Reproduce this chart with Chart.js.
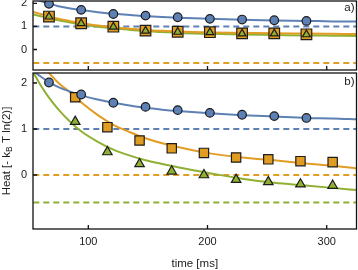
<!DOCTYPE html>
<html>
<head>
<meta charset="utf-8">
<script src="https://cdn.jsdelivr.net/npm/chart.js@4.4.1/dist/chart.umd.min.js"></script>
<style>
  html, body { margin: 0; padding: 0; background: #fff; }
  #wrap { position: relative; width: 358px; height: 270px; }
  #wrap canvas { position: absolute; left: 0; top: 0; }
</style>
</head>
<body>
<div id="wrap">
  <canvas id="panelA" width="358" height="270"></canvas>
  <canvas id="panelB" width="358" height="270"></canvas>
</div>
<script>
// measurement times [ms]
const tCircles = [67, 94, 121, 148, 175, 202, 229, 256, 283];
const tLater   = [89, 116, 143, 170, 197, 224, 251, 278, 305];

// panel a) measured heat
const aCircles   = [1.98, 1.72, 1.54, 1.47, 1.40, 1.33, 1.30, 1.27, 1.24];
const aSquares   = [1.43, 1.14, 0.99, 0.82, 0.77, 0.75, 0.70, 0.70, 0.66];
const aTriangles = [1.42, 1.13, 0.98, 0.81, 0.76, 0.74, 0.69, 0.69, 0.65];

// panel b) measured heat
const bCircles   = [2.01, 1.75, 1.57, 1.48, 1.41, 1.35, 1.31, 1.28, 1.24];
const bSquares   = [1.69, 1.04, 0.75, 0.58, 0.48, 0.38, 0.34, 0.30, 0.28];
const bTriangles = [1.16, 0.50, 0.24, 0.08, 0.00, -0.10, -0.15, -0.20, -0.23];

// fit curves at these times
const tFit = [54, 60, 67, 75, 85, 94, 108, 121, 135, 148, 162, 175, 202, 229, 256, 283, 305, 326];
const aFitBlue   = [2.22, 2.10, 1.99, 1.88, 1.78, 1.71, 1.62, 1.55, 1.50, 1.45, 1.41, 1.38, 1.33, 1.29, 1.26, 1.24, 1.22, 1.21];
const aFitOrange = [1.63, 1.54, 1.45, 1.34, 1.23, 1.14, 1.04, 0.97, 0.90, 0.85, 0.81, 0.78, 0.74, 0.72, 0.70, 0.69, 0.68, 0.67];
const aFitGreen  = [1.52, 1.44, 1.36, 1.27, 1.17, 1.08, 0.99, 0.92, 0.85, 0.80, 0.76, 0.72, 0.68, 0.65, 0.63, 0.61, 0.60, 0.59];
const bFitBlue   = [2.26, 2.14, 2.02, 1.91, 1.81, 1.73, 1.64, 1.57, 1.51, 1.46, 1.42, 1.39, 1.34, 1.30, 1.27, 1.24, 1.23, 1.21];
const bFitOrange = [2.72, 2.45, 2.22, 2.00, 1.79, 1.58, 1.30, 1.09, 0.93, 0.80, 0.69, 0.61, 0.47, 0.38, 0.32, 0.25, 0.20, 0.14];
const bFitGreen  = [2.22, 1.95, 1.68, 1.42, 1.15, 0.95, 0.72, 0.55, 0.42, 0.32, 0.24, 0.17, 0.04, -0.08, -0.17, -0.23, -0.28, -0.33];

// dashed reference levels
const aLevels = { blue: 1.0, orange: -0.59 };
const bLevels = { blue: 1.0, orange: 0.0, green: -0.60 };
const xTicks = [100, 200, 300];
const yTicks = [0, 1, 2];

const BLUE = '#5E81B5', ORANGE = '#E19C24', GREEN = '#8FB032';
const EDGE = 'rgba(20,20,20,0.95)';

Chart.defaults.font.family = "'Liberation Sans', Arial, sans-serif";
Chart.defaults.font.size = 11;
Chart.defaults.color = '#222';

const pts = (xs, ys) => xs.map((x, i) => ({ x: x, y: ys[i] }));
const flat = (y) => [{ x: 40, y: y }, { x: 340, y: y }];

function curve(xs, ys, color, order) {
  return { type: 'line', data: pts(xs, ys), borderColor: color, borderWidth: 2,
    pointRadius: 0, cubicInterpolationMode: 'monotone', order: order };
}
function dashed(y, color) {
  return { type: 'line', data: flat(y), borderColor: color, borderWidth: 2,
    borderDash: [6, 4], borderDashOffset: 3.5, pointRadius: 0, order: 20 };
}
function markers(xs, ys, color, style, r, order) {
  return { type: 'line', data: pts(xs, ys), showLine: false, pointStyle: style,
    pointRadius: r, pointBackgroundColor: color, pointBorderColor: EDGE,
    pointBorderWidth: 1.2, order: order };
}

// frame, inward ticks and panel letter
const frame = {
  id: 'frame',
  afterDatasetsDraw(chart, args, opts) {
    const { ctx, chartArea: a, scales } = chart;
    ctx.save();
    ctx.strokeStyle = '#111';
    ctx.lineWidth = 1.3;
    ctx.strokeRect(a.left, a.top, a.right - a.left, a.bottom - a.top);
    ctx.beginPath();
    scales.x.ticks.forEach(t => {
      const px = scales.x.getPixelForValue(t.value);
      ctx.moveTo(px, a.bottom); ctx.lineTo(px, a.bottom - 4);
    });
    scales.y.ticks.forEach(t => {
      const py = scales.y.getPixelForValue(t.value);
      ctx.moveTo(a.left, py); ctx.lineTo(a.left + 4, py);
    });
    ctx.stroke();
    if (opts.label) {
      ctx.fillStyle = '#222';
      ctx.font = "11.5px 'Liberation Sans', Arial, sans-serif";
      ctx.textAlign = 'right';
      ctx.textBaseline = 'middle';
      ctx.fillText(opts.label, a.right - 2, a.top + opts.labelY);
    }
    ctx.restore();
  }
};

// rotated y title with subscript B
const yTitle = {
  id: 'yTitle',
  afterDraw(chart, args, opts) {
    if (!opts.show) return;
    const { ctx, chartArea: a } = chart;
    const big = "11.5px 'Liberation Sans', Arial, sans-serif";
    const small = "8.5px 'Liberation Sans', Arial, sans-serif";
    const parts = ['Heat [- k', 'B', ' T ln(2)]'];
    ctx.save();
    ctx.font = big; const w0 = ctx.measureText(parts[0]).width, w2 = ctx.measureText(parts[2]).width;
    ctx.font = small; const w1 = ctx.measureText(parts[1]).width;
    const total = w0 + w1 + w2;
    ctx.translate(6.5, (a.top + a.bottom) / 2);
    ctx.rotate(-Math.PI / 2);
    ctx.fillStyle = '#222';
    ctx.textBaseline = 'middle';
    ctx.textAlign = 'left';
    let x = -total / 2;
    ctx.font = big; ctx.fillText(parts[0], x, 0); x += w0;
    ctx.font = small; ctx.fillText(parts[1], x, 3); x += w1;
    ctx.font = big; ctx.fillText(parts[2], x, 0);
    ctx.restore();
  }
};

const noPad = s => { s.paddingTop = 0; s.paddingBottom = 0; s.paddingLeft = 0; s.paddingRight = 0; };

function scalesFor(yMin, yMax, showX) {
  return {
    x: {
      type: 'linear', min: 53.6, max: 325,
      afterBuildTicks: s => { s.ticks = xTicks.map(v => ({ value: v })); },
      afterFit: s => { s.height = showX ? 41 : 0; noPad(s); },
      grid: { display: false, drawTicks: false },
      border: { display: false },
      ticks: { display: showX, padding: 6, font: { size: 11 } },
      title: { display: showX, text: 'time [ms]', font: { size: 11.5, lineHeight: 1 }, padding: 0 }
    },
    y: {
      type: 'linear', min: yMin, max: yMax,
      afterBuildTicks: s => { s.ticks = yTicks.map(v => ({ value: v })); },
      afterFit: s => { s.width = 33; noPad(s); },
      grid: { display: false, drawTicks: false },
      border: { display: false },
      ticks: { padding: 6, font: { size: 11 } }
    }
  };
}

new Chart(document.getElementById('panelA'), {
  type: 'line',
  data: { datasets: [
    markers(tCircles, aTriangles, GREEN, 'triangle', 4.5, 1),
    markers(tCircles, aSquares, ORANGE, 'rect', 7.5, 2),
    markers(tCircles, aCircles, BLUE, 'circle', 4.3, 3),
    curve(tFit, aFitOrange, ORANGE, 10),
    curve(tFit, aFitGreen, GREEN, 11),
    curve(tFit, aFitBlue, BLUE, 12),
    dashed(aLevels.blue, BLUE),
    dashed(aLevels.orange, ORANGE)
  ] },
  options: {
    responsive: false, animation: false,
    layout: { autoPadding: false, padding: { top: 1, right: 1.5, bottom: 200, left: 0 } },
    scales: scalesFor(-0.889, 2.104, false),
    plugins: { legend: { display: false }, tooltip: { enabled: false },
      frame: { label: 'a)', labelY: 7 }, yTitle: { show: false } }
  },
  plugins: [frame, yTitle]
});

new Chart(document.getElementById('panelB'), {
  type: 'line',
  data: { datasets: [
    markers(tCircles, bCircles, BLUE, 'circle', 4.3, 1),
    markers(tLater, bSquares, ORANGE, 'rect', 6.6, 2),
    markers(tLater, bTriangles, GREEN, 'triangle', 5.5, 3),
    curve(tFit, bFitBlue, BLUE, 10),
    curve(tFit, bFitOrange, ORANGE, 11),
    curve(tFit, bFitGreen, GREEN, 12),
    dashed(bLevels.blue, BLUE),
    dashed(bLevels.orange, ORANGE),
    dashed(bLevels.green, GREEN)
  ] },
  options: {
    responsive: false, animation: false,
    layout: { autoPadding: false, padding: { top: 73, right: 1.5, bottom: 0, left: 0 } },
    scales: scalesFor(-1.174, 2.217, true),
    plugins: { legend: { display: false }, tooltip: { enabled: false },
      frame: { label: 'b)', labelY: 9 }, yTitle: { show: true } }
  },
  plugins: [frame, yTitle]
});
</script>
</body>
</html>
